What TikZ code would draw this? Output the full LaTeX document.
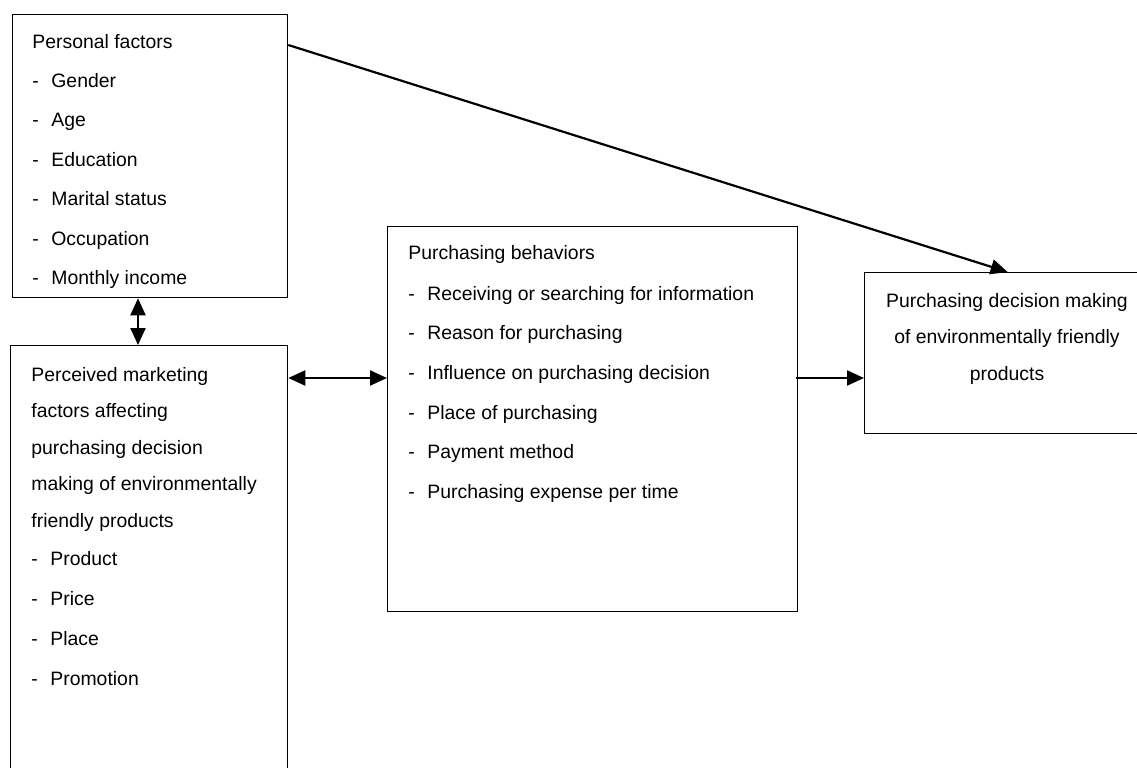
\documentclass[tikz,border=0pt]{standalone}
\usepackage{fontspec}
\setmainfont{Liberation Sans}
\usetikzlibrary{arrows.meta,calc}

\tikzset{
  box/.style={draw, line width=0.65pt, anchor=north west, inner sep=0pt},
  txt/.style={anchor=base west, inner sep=0pt, font=\fontsize{9.7}{12}\selectfont},
  ctxt/.style={txt, anchor=base},
  link/.style={line width=1.1pt, -{Triangle[length=8.5pt,width=7.5pt]}},
  twoway/.style={line width=1.1pt, {Triangle[length=8.5pt,width=7.5pt]}-{Triangle[length=8.5pt,width=7.5pt]}}
}

\begin{document}
\begin{tikzpicture}[x=0.5pt,y=-0.5pt]
\useasboundingbox (0,0) rectangle (1137,767);
% boxes
\node[box, minimum width=137.5pt, minimum height=141.5pt] (pers) at (12,14) {};
\node[box, minimum width=138.5pt, minimum height=220pt] (mkt) at (10,345) {};
\node[box, minimum width=205pt, minimum height=192.5pt] (beh) at (387,226) {};
\node[box, minimum width=143pt, minimum height=80.5pt] (dec) at (864,272) {};

% personal factors
\node[txt] (perst) at (32,48) {Personal factors};
\foreach \t [count=\i from 0] in {Gender,Age,Education,Marital status,Occupation,Monthly income}
    \node[txt] (pers\i) at (32,87+39.5*\i) {\makebox[9.5pt][l]{-}\t};

% marketing factors
\foreach \t [count=\i from 0] in {Perceived marketing,factors affecting,purchasing decision,making of environmentally,friendly products}
    \node[txt] (mktt\i) at (31,381+36.5*\i) {\t};
\foreach \t [count=\i from 0] in {Product,Price,Place,Promotion}
    \node[txt] (mkt\i) at (31,565+40*\i) {\makebox[9.5pt][l]{-}\t};

% purchasing behaviors
\node[txt] (beht) at (408,259) {Purchasing behaviors};
\foreach \t [count=\i from 0] in {Receiving or searching for information,Reason for purchasing,Influence on purchasing decision,Place of purchasing,Payment method,Purchasing expense per time}
    \node[txt] (beh\i) at (408,300+39.7*\i) {\makebox[9.5pt][l]{-}\t};

% decision
\foreach \t [count=\i from 0] in {Purchasing decision making,of environmentally friendly,products}
    \node[ctxt] (dect\i) at (1007,307+36.5*\i) {\t};

% arrows
\draw[link] ($(pers.north east)+(0,31)$) -- (dec.north);
\draw[twoway] ($(pers.south west)+(126,0)$) -- ($(mkt.north west)+(128,0)$);
\draw[twoway] ($(mkt.north east)+(0,33)$) -- ($(beh.north west)+(0,152)$);
\draw[link] ($(beh.north east)+(-2,152)$) -- ($(dec.north west)+(0,106)$);
\end{tikzpicture}
\end{document}
